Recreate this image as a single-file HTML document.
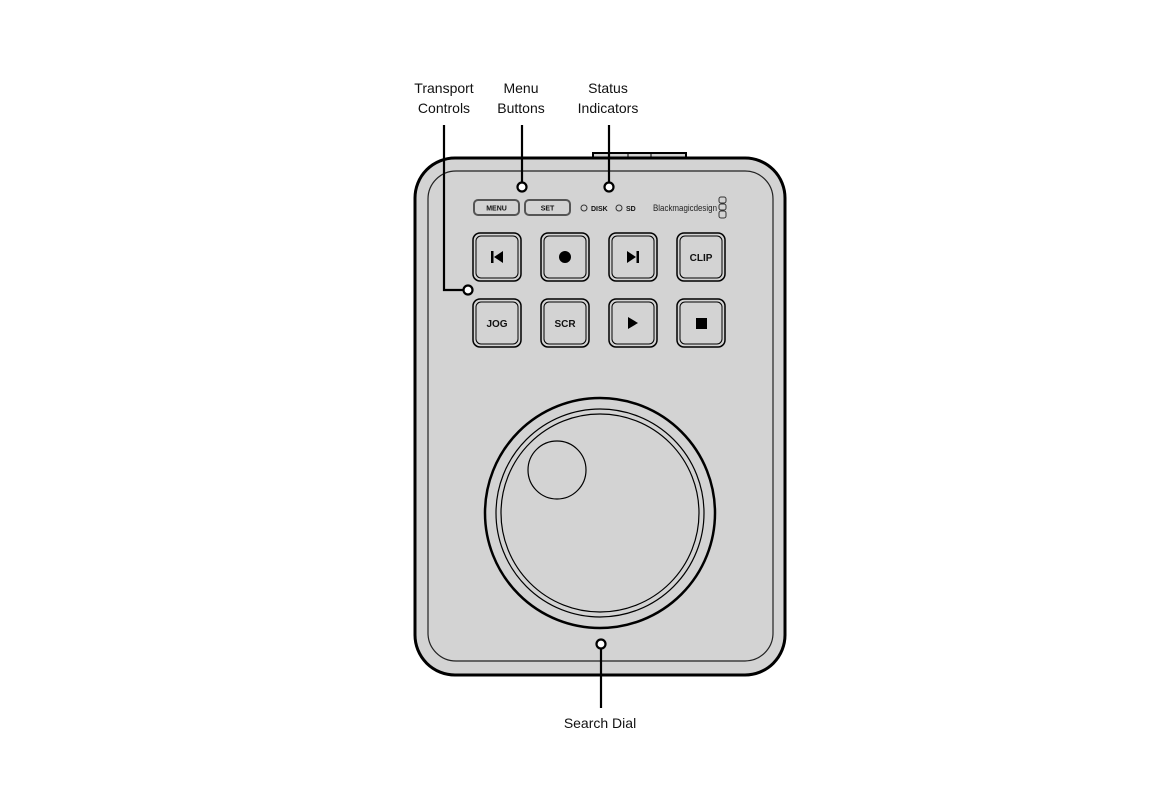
<!DOCTYPE html>
<html><head><meta charset="utf-8"><style>
body{margin:0;background:#fff}
text{font-family:"Liberation Sans",sans-serif}
</style></head><body>
<svg width="1170" height="780" viewBox="0 0 1170 780" xmlns="http://www.w3.org/2000/svg">
<rect x="593" y="153" width="93" height="8" fill="#d3d3d3" stroke="#000" stroke-width="2"/>
<line x1="628" y1="153" x2="628" y2="158" stroke="#000" stroke-width="1"/>
<line x1="651" y1="153" x2="651" y2="158" stroke="#000" stroke-width="1"/>
<rect x="415" y="158" width="370" height="517" rx="40" fill="#d3d3d3" stroke="#000" stroke-width="3"/>
<rect x="428" y="171" width="345" height="490" rx="28" fill="none" stroke="#222" stroke-width="1.2"/>
<g fill="#d3d3d3" stroke="#555" stroke-width="2">
<rect x="474" y="200" width="45" height="15" rx="4"/>
<rect x="525" y="200" width="45" height="15" rx="4"/>
</g>
<g font-size="7" font-weight="bold" text-anchor="middle" fill="#111">
<text x="496.5" y="210.5">MENU</text><text x="547.5" y="210.5">SET</text>
</g>
<circle cx="584" cy="208" r="3" fill="none" stroke="#333"/>
<text x="591" y="211" font-size="7" font-weight="bold" fill="#111">DISK</text>
<circle cx="619" cy="208" r="3" fill="none" stroke="#333"/>
<text x="626" y="211" font-size="7" font-weight="bold" fill="#111">SD</text>
<text x="653" y="211" font-size="9.5" fill="#222" textLength="64" lengthAdjust="spacingAndGlyphs">Blackmagicdesign</text>
<g fill="none" stroke="#333" stroke-width="1"><rect x="719" y="197" width="7" height="6" rx="2"/><rect x="719" y="204" width="7" height="6" rx="2"/><rect x="719" y="211" width="7" height="7" rx="2"/></g>
<g fill="#d3d3d3" stroke="#000">
<g id="b"><rect x="473" y="233" width="48" height="48" rx="7" stroke-width="1.5"/><rect x="476" y="236" width="42" height="42" rx="5" stroke-width="1"/></g>
<use href="#b" x="68"/><use href="#b" x="136"/><use href="#b" x="204"/>
<use href="#b" y="66"/><use href="#b" x="68" y="66"/><use href="#b" x="136" y="66"/><use href="#b" x="204" y="66"/>
</g>
<rect x="491" y="251" width="2.5" height="12" fill="#000"/><polygon points="494,257 503,251 503,263" fill="#000"/>
<circle cx="565" cy="257" r="6" fill="#000"/>
<polygon points="627,251 636,257 627,263" fill="#000"/><rect x="636.5" y="251" width="2.5" height="12" fill="#000"/>
<polygon points="628,317 638,323 628,329" fill="#000"/>
<rect x="696" y="318" width="11" height="11" fill="#000"/>
<g font-size="10" font-weight="bold" text-anchor="middle" fill="#111">
<text x="701" y="261">CLIP</text><text x="497" y="327">JOG</text><text x="565" y="327">SCR</text>
</g>
<circle cx="600" cy="513" r="115" fill="#d3d3d3" stroke="#000" stroke-width="2.5"/>
<circle cx="600" cy="513" r="104" fill="none" stroke="#000" stroke-width="1.2"/>
<circle cx="600" cy="513" r="99" fill="none" stroke="#000" stroke-width="1.2"/>
<circle cx="557" cy="470" r="29" fill="none" stroke="#000" stroke-width="1.2"/>
<g stroke="#000" stroke-width="2.2" fill="none">
<polyline points="444,125 444,290 464,290"/>
<line x1="522" y1="125" x2="522" y2="183"/>
<line x1="609" y1="125" x2="609" y2="183"/>
<line x1="601" y1="648" x2="601" y2="708"/>
</g>
<g fill="#fff" stroke="#000" stroke-width="2.2">
<circle cx="468" cy="290" r="4.5"/><circle cx="522" cy="187" r="4.5"/><circle cx="609" cy="187" r="4.5"/><circle cx="601" cy="644" r="4.5"/>
</g>
<g font-size="14" text-anchor="middle" fill="#111">
<text x="444" y="93">Transport</text><text x="444" y="113">Controls</text>
<text x="521" y="93">Menu</text><text x="521" y="113">Buttons</text>
<text x="608" y="93">Status</text><text x="608" y="113">Indicators</text>
<text x="600" y="728">Search Dial</text>
</g>
</svg>
</body></html>
